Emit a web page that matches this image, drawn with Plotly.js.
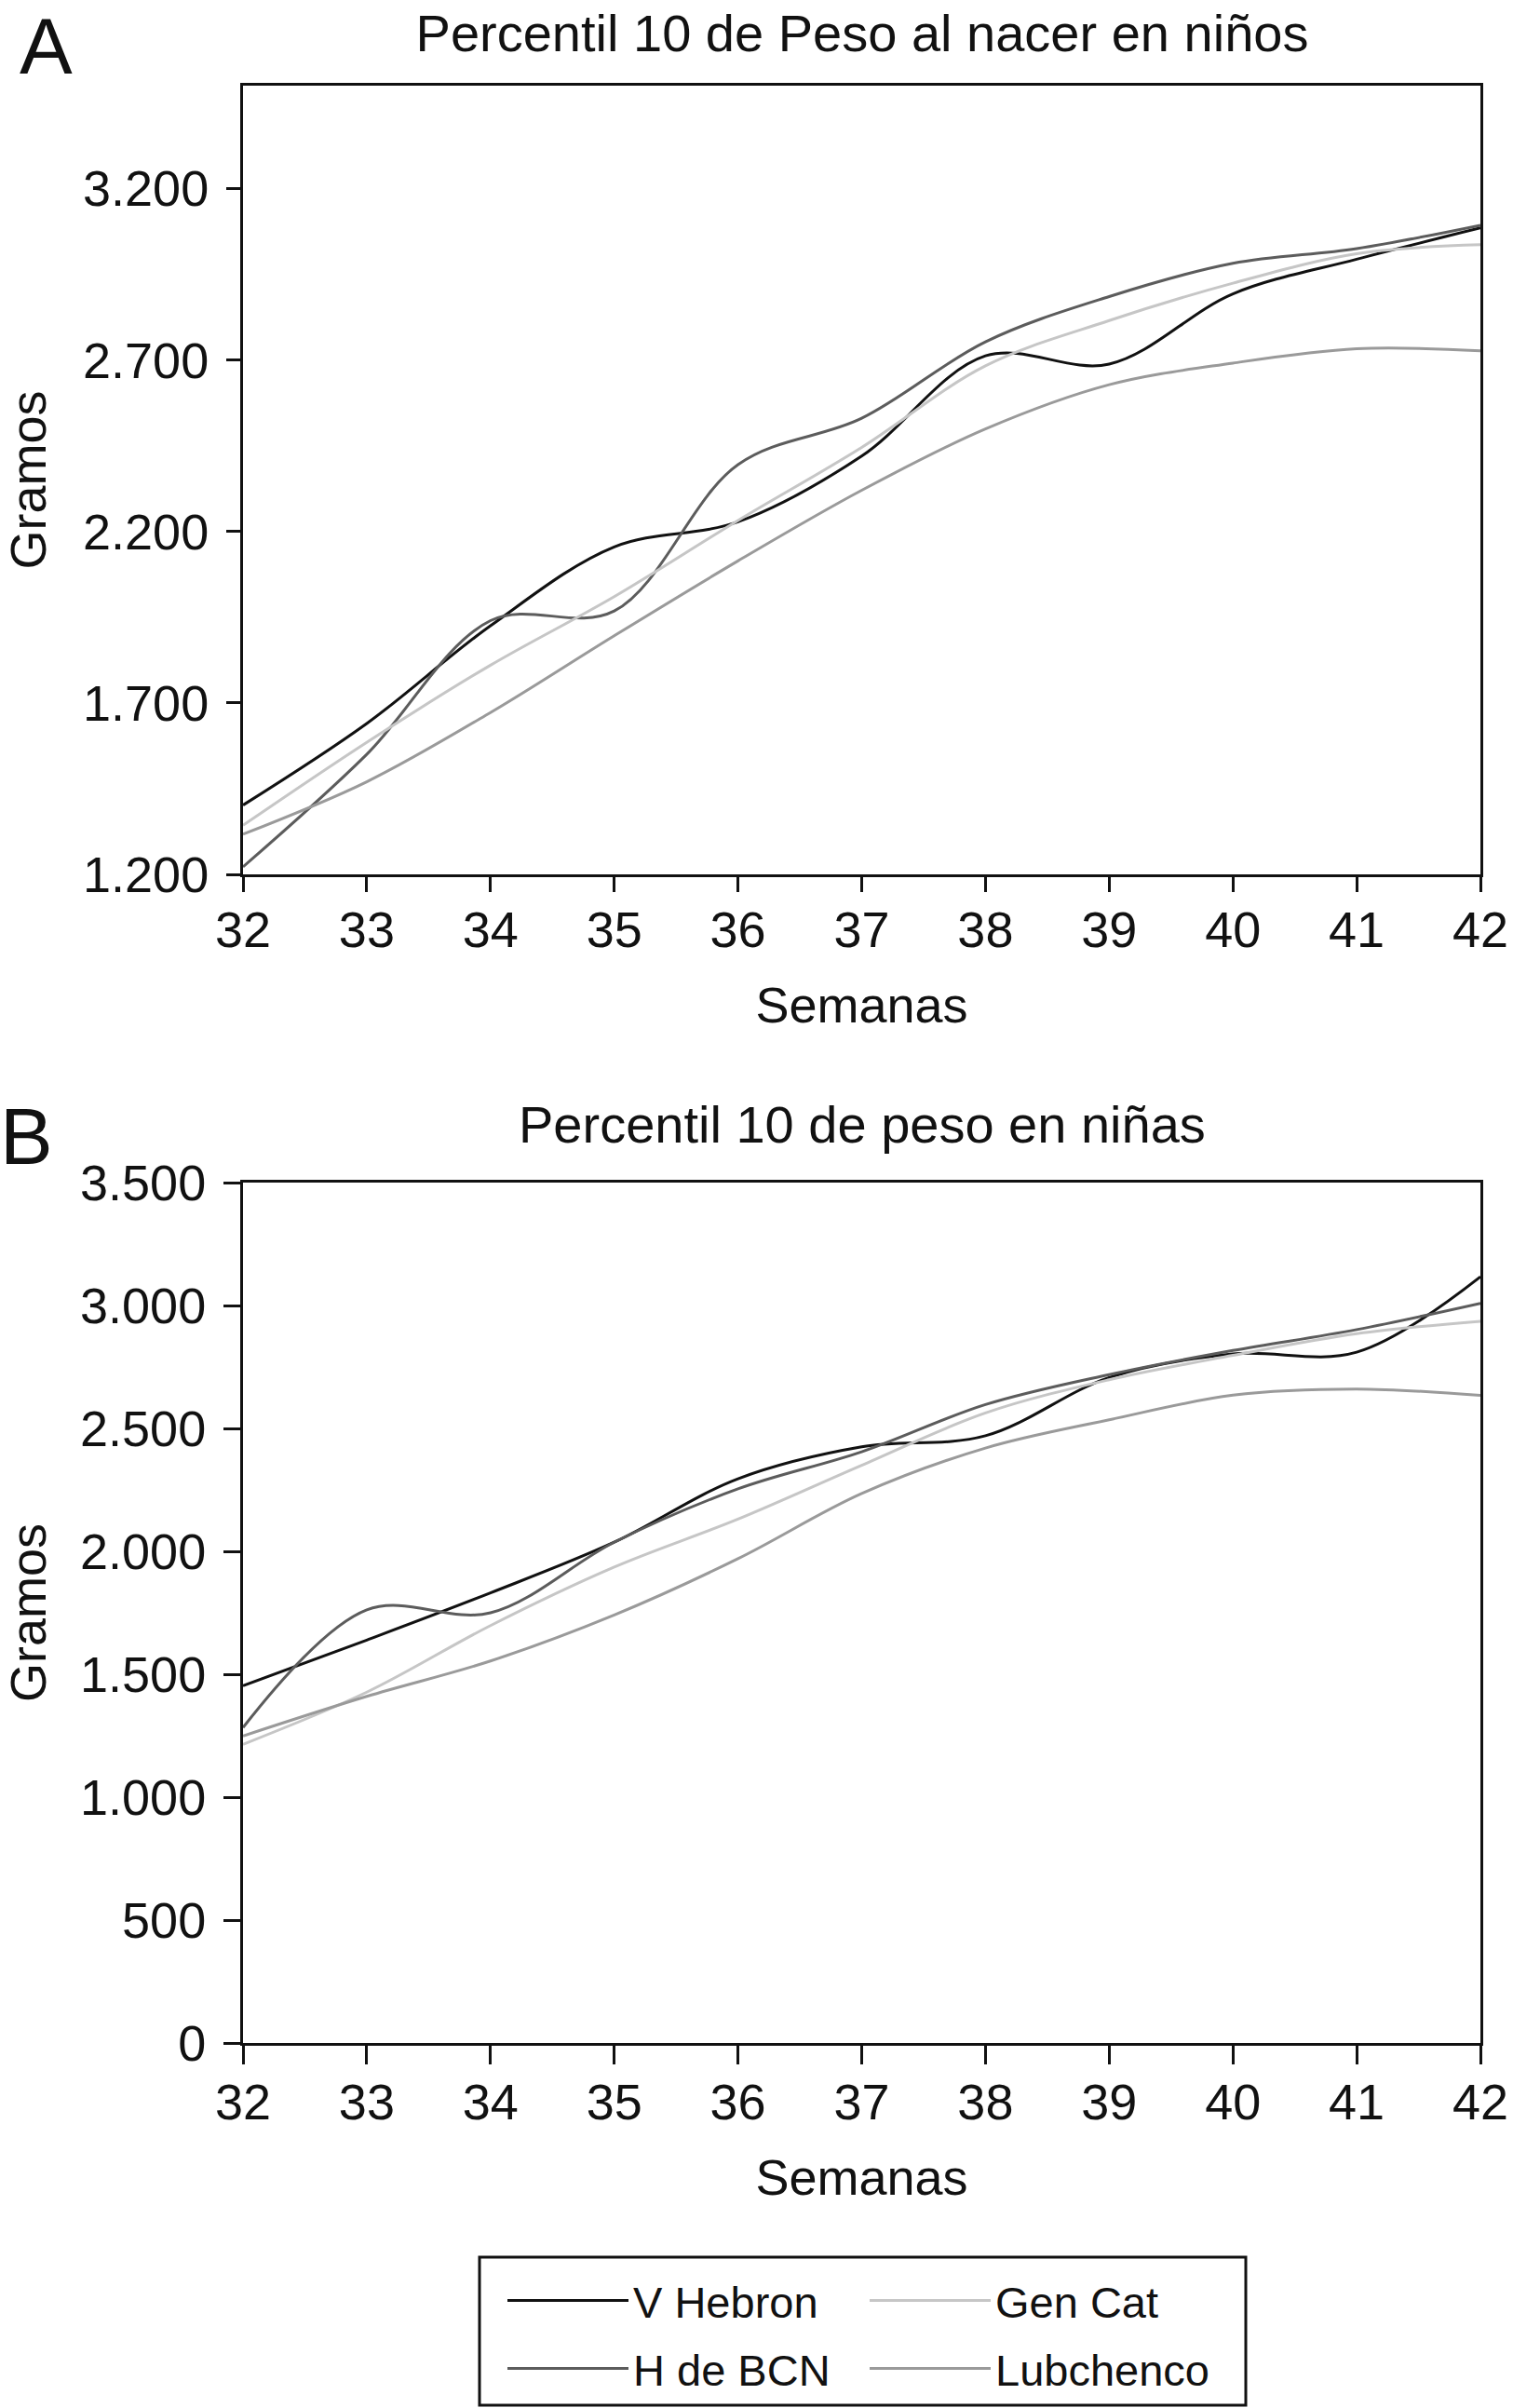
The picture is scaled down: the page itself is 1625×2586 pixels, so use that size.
<!DOCTYPE html>
<html>
<head>
<meta charset="utf-8">
<script src="https://cdn.plot.ly/plotly-3.0.1.min.js"></script>
<style>html,body{margin:0;padding:0;background:#fff;}#chart{width:1625px;height:2586px;}</style>
</head>
<body>
<div id="chart"></div>
<script>
// ---- data ----
const weeks = [32, 33, 34, 35, 36, 37, 38, 39, 40, 41, 42];
const seriesNames = ["V Hebron", "H de BCN", "Gen Cat", "Lubchenco"];

// A: Percentil 10 de peso al nacer en niños (gramos)
const boysVHebron   = [1402, 1640, 1925, 2155, 2228, 2420, 2712, 2688, 2893, 2994, 3085];
const boysHdeBCN    = [1222, 1550, 1940, 1968, 2395, 2530, 2753, 2885, 2982, 3025, 3093];
const boysGenCat    = [1343, 1585, 1810, 2010, 2232, 2445, 2683, 2815, 2924, 3010, 3036];
const boysLubchenco = [1317, 1470, 1672, 1896, 2114, 2320, 2499, 2628, 2691, 2733, 2727];

// B: Percentil 10 de peso en niñas (gramos)
const girlsVHebron   = [1453, 1639, 1831, 2037, 2295, 2425, 2470, 2707, 2803, 2810, 3117];
const girlsHdeBCN    = [1283, 1762, 1750, 2037, 2254, 2405, 2597, 2719, 2817, 2902, 3009];
const girlsGenCat    = [1215, 1427, 1698, 1936, 2131, 2350, 2563, 2698, 2797, 2885, 2936];
const girlsLubchenco = [1249, 1410, 1554, 1741, 1970, 2235, 2420, 2535, 2635, 2660, 2634];

const colors = ["#111111", "#5c5c5c", "#c6c6c6", "#9a9a9a"];
const legendIds = ["legend", "legend3", "legend2", "legend4"];

const FONT = "Liberation Sans, Arial, Helvetica, sans-serif";
const W = 1625, H = 2586;
const px = v => v / W;
const py = v => 1 - v / H;

const boys = [boysVHebron, boysHdeBCN, boysGenCat, boysLubchenco];
const girls = [girlsVHebron, girlsHdeBCN, girlsGenCat, girlsLubchenco];

const traces = [];
boys.forEach((ys, i) => {
  traces.push({
    x: weeks, y: ys, name: seriesNames[i], type: "scatter", mode: "lines",
    line: {color: colors[i], width: 3, shape: "spline", smoothing: 1},
    xaxis: "x", yaxis: "y", legend: legendIds[i], showlegend: true, hoverinfo: "skip"
  });
});
girls.forEach((ys, i) => {
  traces.push({
    x: weeks, y: ys, name: seriesNames[i], type: "scatter", mode: "lines",
    line: {color: colors[i], width: 3, shape: "spline", smoothing: 1},
    xaxis: "x2", yaxis: "y2", showlegend: false, hoverinfo: "skip"
  });
});

const tickFont = {family: FONT, size: 54, color: "#111"};
const axisCommon = {
  showline: true, linewidth: 3, linecolor: "#111", mirror: true,
  ticks: "outside", tickwidth: 3, tickcolor: "#111",
  showgrid: false, zeroline: false, tickfont: tickFont, fixedrange: true
};

const xDomain = [px(261), px(1590)];

function legendAt(xLine, yLine) {
  return {
    x: px(xLine), y: py(yLine), xanchor: "left", yanchor: "middle",
    xref: "paper", yref: "paper",
    orientation: "v", itemwidth: 130, bgcolor: "rgba(0,0,0,0)", borderwidth: 0,
    font: {family: FONT, size: 47, color: "#111"}, itemclick: false, itemdoubleclick: false
  };
}

const layout = {
  width: W, height: H,
  margin: {l: 0, r: 0, t: 0, b: 0, pad: 0},
  paper_bgcolor: "#fff", plot_bgcolor: "#fff",
  separators: ",.",
  font: {family: FONT, color: "#111"},
  title: {
    text: "Percentil 10 de Peso al nacer en niños",
    font: {family: FONT, size: 56, color: "#111"},
    x: px(926), xanchor: "center", xref: "paper",
    y: py(35), yanchor: "middle", yref: "paper"
  },
  xaxis: Object.assign({}, axisCommon, {
    domain: xDomain, anchor: "y", range: [32, 42], tick0: 32, dtick: 1, ticklen: 16,
    ticklabelstandoff: -6,
    title: {text: "Semanas", font: {family: FONT, size: 54, color: "#111"}, standoff: 34}
  }),
  yaxis: Object.assign({}, axisCommon, {
    domain: [py(939), py(92)], anchor: "x", range: [1200, 3500], tick0: 1200, dtick: 500,
    ticklen: 15, separatethousands: true, tickformat: ",d", ticklabelstandoff: 8,
    title: {text: "Gramos", font: {family: FONT, size: 54, color: "#111"}, standoff: 24}
  }),
  xaxis2: Object.assign({}, axisCommon, {
    domain: xDomain, anchor: "y2", range: [32, 42], tick0: 32, dtick: 1, ticklen: 20,
    ticklabelstandoff: -6,
    title: {text: "Semanas", font: {family: FONT, size: 54, color: "#111"}, standoff: 34}
  }),
  yaxis2: Object.assign({}, axisCommon, {
    domain: [py(2194), py(1270)], anchor: "x2", range: [0, 3500], tick0: 0, dtick: 500,
    ticklen: 18, separatethousands: true, tickformat: ",d", ticklabelstandoff: 8,
    title: {text: "Gramos", font: {family: FONT, size: 54, color: "#111"}, standoff: 24}
  }),
  legend: legendAt(540, 2471),
  legend2: legendAt(929, 2471),
  legend3: legendAt(540, 2544),
  legend4: legendAt(929, 2544),
  annotations: [
    {text: "A", x: px(49), y: py(49), xref: "paper", yref: "paper", xanchor: "center", yanchor: "middle",
     showarrow: false, font: {family: FONT, size: 85, color: "#111"}},
    {text: "B", x: px(28), y: py(1220), xref: "paper", yref: "paper", xanchor: "center", yanchor: "middle",
     showarrow: false, font: {family: FONT, size: 85, color: "#111"}},
    {text: "Percentil 10 de peso en niñas", x: px(926), y: py(1207), xref: "paper", yref: "paper",
     xanchor: "center", yanchor: "middle", showarrow: false, font: {family: FONT, size: 56, color: "#111"}}
  ],
  shapes: [
    {type: "rect", xref: "paper", yref: "paper", x0: px(515), x1: px(1338), y0: py(2583), y1: py(2424),
     line: {color: "#111", width: 3}, fillcolor: "rgba(0,0,0,0)"}
  ]
};

Plotly.newPlot("chart", traces, layout, {staticPlot: true, displayModeBar: false});
</script>
</body>
</html>
